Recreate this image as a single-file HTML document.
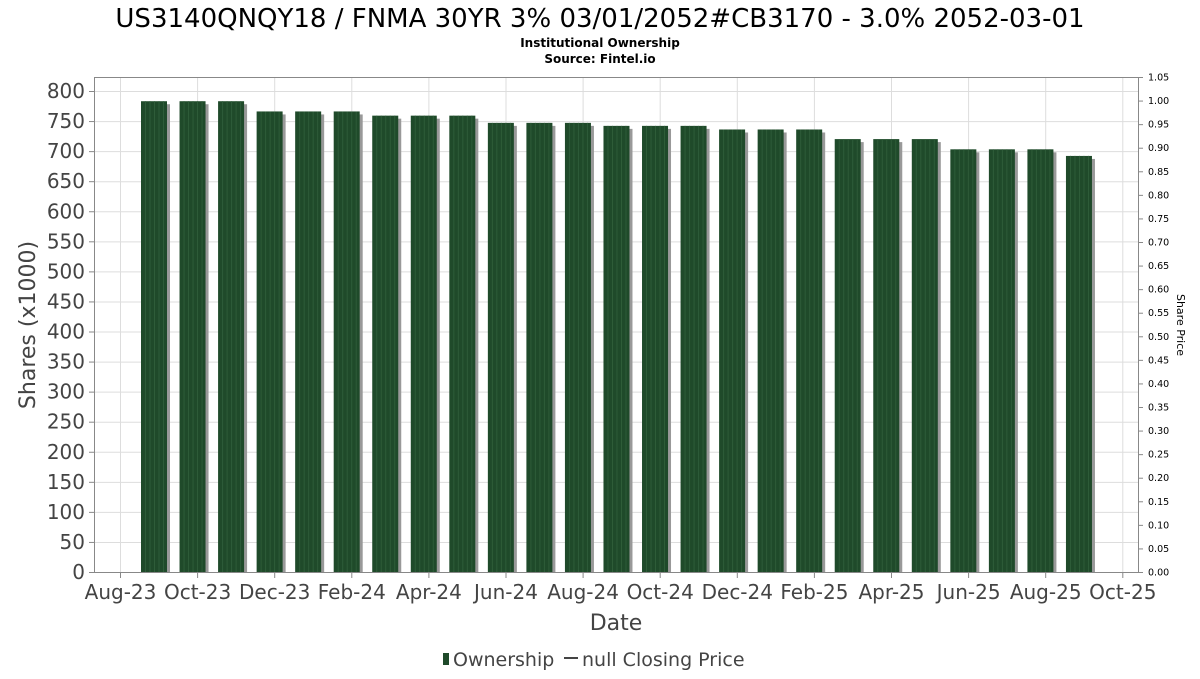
<!DOCTYPE html>
<html><head><meta charset="utf-8"><style>
body{margin:0;background:#fff;font-family:"DejaVu Sans","Liberation Sans",sans-serif;}
svg text{font-family:"DejaVu Sans","Liberation Sans",sans-serif;}
</style></head><body>
<svg id="chart" width="1200" height="675" viewBox="0 0 1200 675" xmlns="http://www.w3.org/2000/svg">
<rect width="1200" height="675" fill="#fff"/>
<text x="600" y="27" font-size="26" text-anchor="middle" fill="#000">US3140QNQY18 / FNMA 30YR 3% 03/01/2052#CB3170 - 3.0% 2052-03-01</text>
<text x="600" y="47" font-size="12" font-weight="bold" text-anchor="middle" fill="#000">Institutional Ownership</text>
<text x="600" y="63" font-size="12" font-weight="bold" text-anchor="middle" fill="#000">Source: Fintel.io</text>
<g id="grid"></g>
<g id="bars"></g>
<rect x="94.5" y="77.5" width="1044" height="495" fill="none" stroke="#888"/>
<g id="yaxis"></g>
<g id="y2axis"></g>
<g id="xaxis"></g>
<text transform="translate(35,325) rotate(-90)" font-size="22" text-anchor="middle" fill="#444">Shares (x1000)</text>
<text transform="translate(1177,325) rotate(90)" font-size="11" text-anchor="middle" fill="#000">Share Price</text>
<text x="616" y="630" font-size="22" text-anchor="middle" fill="#444">Date</text>
<g>
<rect x="443" y="653" width="6" height="12" fill="#1f4a2a"/>
<text x="453" y="666" font-size="19" fill="#444">Ownership</text>
<line x1="564" y1="658" x2="578" y2="658" stroke="#444" stroke-width="2"/>
<text x="582" y="666" font-size="19" fill="#444">null Closing Price</text>
</g>
</svg>
<script>
const values = [783,783,783,766,766,766,759,759,759,747,747,747,742,742,742,736,736,736,720,720,720,703,703,703,692];
const yTicks = [0,50,100,150,200,250,300,350,400,450,500,550,600,650,700,750,800];
const y2Ticks = ["0.00","0.05","0.10","0.15","0.20","0.25","0.30","0.35","0.40","0.45","0.50","0.55","0.60","0.65","0.70","0.75","0.80","0.85","0.90","0.95","1.00","1.05"];
const xLabels = ["Aug-23","Oct-23","Dec-23","Feb-24","Apr-24","Jun-24","Aug-24","Oct-24","Dec-24","Feb-25","Apr-25","Jun-25","Aug-25","Oct-25"];

const NS="http://www.w3.org/2000/svg";
const y=v=>572-v*0.60125;
const y2=v=>572-v*(495/1.05);
const xTick=i=>120.5+i*77.1;
const xBar=i=>154+i*38.54;
function mk(t,a,p){const e=document.createElementNS(NS,t);for(const k in a)e.setAttribute(k,a[k]);p.appendChild(e);return e;}
const grid=document.getElementById('grid'),bars=document.getElementById('bars'),ya=document.getElementById('yaxis'),y2a=document.getElementById('y2axis'),xa=document.getElementById('xaxis');
yTicks.forEach(v=>{
 const l=mk('line',{x1:95,x2:1138,y1:y(v)+.5,y2:y(v)+.5,stroke:'#ddd'},grid);
 
 
 const tk=mk('line',{x1:89,x2:94,y1:y(v)+.5,y2:y(v)+.5,stroke:'#888'},ya);
 
 
 const t=mk('text',{x:85,y:y(v)+7,'font-size':20,'text-anchor':'end',fill:'#444'},ya);
 t.textContent=v;
 
 
});
y2Ticks.forEach(s=>{
 const v=parseFloat(s);
 const tk=mk('line',{x1:1139,x2:1143,y1:y2(v)+.5,y2:y2(v)+.5,stroke:'#888'},y2a);
 
 
 const t=mk('text',{x:1148,y:y2(v)+3.5,'font-size':9.5,fill:'#000'},y2a);
 t.textContent=s;
 
 
});
xLabels.forEach((s,i)=>{
 const g=mk('line',{x1:xTick(i),x2:xTick(i),y1:78,y2:572,stroke:'#ddd'},grid);
 
 
 const tk=mk('line',{x1:xTick(i),x2:xTick(i),y1:573,y2:578,stroke:'#888'},xa);
 
 
 const t=mk('text',{x:xTick(i),y:599,'font-size':20,'text-anchor':'middle',fill:'#444'},xa);
 t.textContent=s;
 
 
});
values.forEach((v,i)=>{
 const cx=xBar(i),top=y(v);
 const sh=mk('rect',{x:cx-10,y:top+3,width:26,height:572-top-3,fill:'#999'},bars);
 
 
 const b=mk('rect',{x:cx-13,y:top,width:26,height:572-top,fill:'#1f4a2a'},bars);
 
 
 for(let k=1;k<6;k++){
  const st=mk('line',{x1:cx-13+k*4.5,x2:cx-13+k*4.5,y1:top,y2:572,stroke:'#2e5c39','stroke-width':1},bars);
  
  
 }
});
</script>
</body></html>
